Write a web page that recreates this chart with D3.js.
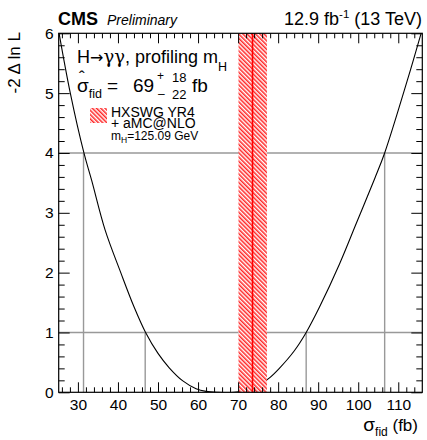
<!DOCTYPE html>
<html lang="en">
<head>
<meta charset="UTF-8">
<title>H to gamma gamma fiducial cross section scan</title>
<script src="https://d3js.org/d3.v7.min.js"></script>
<style>
    body { margin: 0; background: #fff; }
    svg text { font-family: "Liberation Sans", Arial, Helvetica, sans-serif; fill: #000; }
    .tick text { font-size: 15.5px; }
</style>
</head>
<body>
<svg id="chart" width="427" height="440"></svg>
<script>
    // likelihood scan
    const sigmaVals = [25.3, 28.1, 31.5, 33.4, 36.8, 40.7, 44.0, 46.9, 50.0, 52.8, 56.2, 59.5, 62.0, 65.0, 69.0,
                       72.0, 75.0, 78.0, 80.3, 84.0, 87.0, 90.3, 95.3, 99.5, 104.1, 106.6, 112.2, 115.7];
    const nllVals   = [6.0, 5.0, 4.0, 3.55, 2.71, 2.0, 1.43, 1.0, 0.65, 0.41, 0.19, 0.06, 0.015, 0.0, 0.0,
                       0.03, 0.11, 0.25, 0.40, 0.69, 1.0, 1.42, 2.14, 2.82, 3.57, 4.0, 5.2, 6.0];

    const levels = [1, 4];
    const crossings1 = [46.8, 87.0];
    const crossings4 = [31.4, 106.6];

    const bestFit = 69, errUp = 18, errDown = 22;
    const theoryCentral = 73.6, theoryLow = 70.1, theoryHigh = 77.2;

    const xMajor = [30, 40, 50, 60, 70, 80, 90, 100, 110];
    const yMajor = [0, 1, 2, 3, 4, 5, 6];

    const width = 427, height = 440;
    const margin = {left: 58.7, right: 4.7, top: 33.3, bottom: 47.7};
    const pw = width - margin.left - margin.right;
    const ph = height - margin.top - margin.bottom;

    const svg = d3.select("#chart");
    const g = svg.append("g").attr("transform", `translate(${margin.left},${margin.top})`);

    const x = d3.scaleLinear().domain([25.2, 116]).range([0, pw]);
    const y = d3.scaleLinear().domain([0, 6]).range([ph, 0]);

    const defs = svg.append("defs");
    const pat = defs.append("pattern")
        .attr("id", "hatch")
        .attr("patternUnits", "userSpaceOnUse")
        .attr("width", 3).attr("height", 3)
        .attr("patternTransform", "rotate(-45)");
    pat.append("rect").attr("width", 3).attr("height", 3).attr("fill", "#fff");
    pat.append("line").attr("x1", 0.8).attr("y1", 0).attr("x2", 0.8).attr("y2", 3)
        .attr("stroke", "#ff0000").attr("stroke-width", 1.3);

    defs.append("clipPath").attr("id", "plotclip")
        .append("rect").attr("width", pw).attr("height", ph);

    // grey reference lines
    levels.forEach(l => {
        g.append("line")
            .attr("x1", 0).attr("x2", pw)
            .attr("y1", y(l)).attr("y2", y(l))
            .attr("stroke", "#999").attr("stroke-width", 1.4);
    });
    crossings4.forEach(c => {
        g.append("line").attr("x1", x(c)).attr("x2", x(c)).attr("y1", y(0)).attr("y2", y(4))
            .attr("stroke", "#999").attr("stroke-width", 1.4);
    });
    crossings1.forEach(c => {
        g.append("line").attr("x1", x(c)).attr("x2", x(c)).attr("y1", y(0)).attr("y2", y(1))
            .attr("stroke", "#999").attr("stroke-width", 1.4);
    });

    // scan curve
    const line = d3.line()
        .x((d, i) => x(sigmaVals[i]))
        .y(d => y(d))
        .curve(d3.curveCatmullRom.alpha(0.5));
    g.append("path")
        .datum(nllVals)
        .attr("clip-path", "url(#plotclip)")
        .attr("d", line)
        .attr("fill", "none")
        .attr("stroke", "#000")
        .attr("stroke-width", 1.1);

    // theory band
    g.append("rect")
        .attr("x", x(theoryLow)).attr("y", 0)
        .attr("width", x(theoryHigh) - x(theoryLow)).attr("height", ph)
        .attr("fill", "url(#hatch)");
    g.append("line")
        .attr("x1", x(theoryCentral)).attr("x2", x(theoryCentral))
        .attr("y1", 0).attr("y2", ph)
        .attr("stroke", "#ff0000").attr("stroke-width", 1.6);

    // axes, ROOT style: ticks inside on all four sides
    const xMinor = d3.range(26, 116, 2).filter(v => v % 10 !== 0);
    const yMinor = d3.range(0, 6.01, 0.2).map(v => +v.toFixed(1)).filter(v => v % 1 !== 0);

    function axisGroup(axis, transform) {
        const a = g.append("g").attr("transform", transform).call(axis);
        a.select(".domain").remove();
        a.selectAll(".tick line").attr("stroke", "#000").attr("stroke-width", 1);
        return a;
    }

    axisGroup(d3.axisBottom(x).tickValues(xMajor).tickSizeInner(-10).tickSizeOuter(0).tickPadding(7),
        `translate(0,${ph})`).selectAll("text").style("font-size", "15.5px");
    axisGroup(d3.axisBottom(x).tickValues(xMinor).tickSizeInner(-5).tickFormat(""), `translate(0,${ph})`);
    axisGroup(d3.axisTop(x).tickValues(xMajor).tickSizeInner(-10).tickFormat(""), "translate(0,0)");
    axisGroup(d3.axisTop(x).tickValues(xMinor).tickSizeInner(-5).tickFormat(""), "translate(0,0)");

    axisGroup(d3.axisLeft(y).tickValues(yMajor).tickSizeInner(-11).tickSizeOuter(0).tickPadding(5)
        .tickFormat(d3.format("d")), "translate(0,0)").selectAll("text").style("font-size", "15.5px");
    axisGroup(d3.axisLeft(y).tickValues(yMinor).tickSizeInner(-6).tickFormat(""), "translate(0,0)");
    axisGroup(d3.axisRight(y).tickValues(yMajor).tickSizeInner(-11).tickFormat(""), `translate(${pw},0)`);
    axisGroup(d3.axisRight(y).tickValues(yMinor).tickSizeInner(-6).tickFormat(""), `translate(${pw},0)`);

    g.append("rect").attr("width", pw).attr("height", ph)
        .attr("fill", "none").attr("stroke", "#000").attr("stroke-width", 1.2);

    // axis titles
    const xt = svg.append("text").attr("x", 418).attr("y", 431)
        .attr("text-anchor", "end").style("font-size", "17px");
    xt.append("tspan").style("font-size", "19px").text("σ");
    xt.append("tspan").attr("dy", 5).style("font-size", "12px").text("fid");
    xt.append("tspan").attr("dy", -5).text(" (fb)");

    svg.append("text")
        .attr("transform", "translate(20,32) rotate(-90)")
        .attr("text-anchor", "end")
        .style("font-size", "17px")
        .text("-2 Δ ln L");

    // header
    svg.append("text").attr("x", 58).attr("y", 25)
        .style("font-size", "18px").style("font-weight", "bold").text("CMS");
    svg.append("text").attr("x", 107).attr("y", 25)
        .style("font-size", "14px").style("font-style", "italic").text("Preliminary");
    const lumi = svg.append("text").attr("x", 422).attr("y", 25)
        .attr("text-anchor", "end").style("font-size", "18px");
    lumi.append("tspan").text("12.9 fb");
    lumi.append("tspan").attr("dy", -7).style("font-size", "11.5px").text("-1");
    lumi.append("tspan").attr("dy", 7).text(" (13 TeV)");

    // legend text
    const t1 = svg.append("text").attr("x", 77).attr("y", 63).style("font-size", "18px");
    t1.append("tspan").text("H");
    t1.append("tspan").style("font-family", "DejaVu Sans").style("font-size", "16px").text("→");
    t1.append("tspan").style("font-family", "DejaVu Serif").text("γγ");
    t1.append("tspan").text(", profiling m");
    t1.append("tspan").attr("dy", 8).style("font-size", "12.5px").text("H");

    svg.append("text").attr("x", 79).attr("y", 83).style("font-size", "17px").text("ˆ");
    const t2 = svg.append("text").attr("x", 77).attr("y", 92).style("font-size", "19px");
    t2.append("tspan").text("σ");
    t2.append("tspan").attr("dy", 6).style("font-size", "12.5px").text("fid");
    svg.append("text").attr("x", 107).attr("y", 92).style("font-size", "19px").text("=");
    svg.append("text").attr("x", 133).attr("y", 92).style("font-size", "19px").text(bestFit);
    svg.append("text").attr("x", 157).attr("y", 80).style("font-size", "12px").text("+");
    svg.append("text").attr("x", 158).attr("y", 98).style("font-size", "12px").text("–");
    svg.append("text").attr("x", 172).attr("y", 82).style("font-size", "13px").text(errUp);
    svg.append("text").attr("x", 172).attr("y", 99).style("font-size", "13px").text(errDown);
    svg.append("text").attr("x", 192).attr("y", 92).style("font-size", "19px").text("fb");

    svg.append("rect").attr("x", 90).attr("y", 108).attr("width", 17).attr("height", 15)
        .attr("fill", "url(#hatch)");
    svg.append("text").attr("x", 111).attr("y", 117).style("font-size", "14px").text("HXSWG YR4");
    svg.append("text").attr("x", 111).attr("y", 128).style("font-size", "14px").text("+ aMC@NLO");
    const t3 = svg.append("text").attr("x", 111).attr("y", 139.5).style("font-size", "12px");
    t3.append("tspan").text("m");
    t3.append("tspan").attr("dy", 3).style("font-size", "8.5px").text("H");
    t3.append("tspan").attr("dy", -3).text("=125.09 GeV");
</script>
</body>
</html>
